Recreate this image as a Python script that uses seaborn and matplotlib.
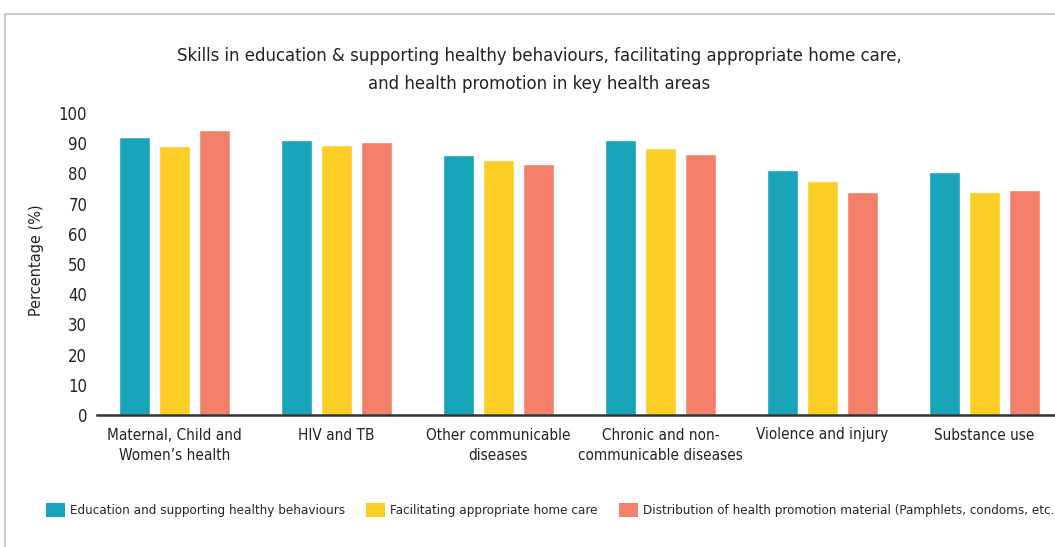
import matplotlib
matplotlib.use("Agg")
import matplotlib.pyplot as plt
from matplotlib.patches import Patch
from matplotlib.lines import Line2D
import seaborn as sns
import pandas as pd

categories = [
    "Maternal, Child and\nWomen\u2019s health",
    "HIV and TB",
    "Other communicable\ndiseases",
    "Chronic and non-\ncommunicable diseases",
    "Violence and injury",
    "Substance use",
]
series_names = [
    "Education and supporting healthy behaviours",
    "Facilitating appropriate home care",
    "Distribution of health promotion material (Pamphlets, condoms, etc.)",
]
education = [92.0, 91.0, 86.0, 91.0, 81.0, 80.5]
home_care = [89.0, 89.5, 84.5, 88.5, 77.5, 74.0]
distribution = [94.5, 90.5, 83.0, 86.5, 74.0, 74.5]
colors = ["#18A4B9", "#FDCE25", "#F4806B"]
y_ticks = list(range(0, 101, 10))

sns.set_theme(style="white")
plt.rcParams["font.family"] = ["DejaVu Sans"]
plt.rcParams["font.stretch"] = "condensed"

rows = []
for name, vals in zip(series_names, [education, home_care, distribution]):
    for cat, v in zip(categories, vals):
        rows.append({"area": cat, "series": name, "value": v})
df = pd.DataFrame(rows)

fig = plt.figure(figsize=(10.55, 5.47), dpi=100)
W, H = 1055, 547
ax = fig.add_axes([97 / W, 1 - 415 / H, (1065.5 - 97) / W, 302 / H])

sns.barplot(data=df, x="area", y="value", hue="series", order=categories,
            hue_order=series_names, palette=colors, saturation=1,
            width=0.74, gap=0.225, legend=False, ax=ax)

ax.set_xlim(-0.478, 5.5)
ax.set_ylim(0, 100)
ax.set_yticks(y_ticks)
ax.set_xlabel("")
ax.set_ylabel("")
for s in ["top", "right", "left"]:
    ax.spines[s].set_visible(False)
ax.spines["bottom"].set_color("#333333")
ax.spines["bottom"].set_linewidth(1.8)
ax.tick_params(axis="both", length=0, colors="#222222")
ax.tick_params(axis="y", pad=7, labelsize=12)
ax.tick_params(axis="x", pad=9, labelsize=11)
for lab in ax.get_xticklabels():
    lab.set_linespacing(1.5)

fig.text(539 / W, 1 - 70 / H,
         "Skills in education & supporting healthy behaviours, facilitating appropriate home care,\n"
         "and health promotion in key health areas",
         ha="center", va="center", fontsize=13.2, color="#222222", linespacing=1.75)
fig.text(36 / W, 1 - 260 / H, "Percentage (%)", rotation=90, ha="center", va="center",
         fontsize=11.7, color="#222222")

# panel frame
fig.add_artist(Line2D([5 / W, 1.0], [1 - 14 / H, 1 - 14 / H], transform=fig.transFigure,
                      color="#CCCCCC", lw=1.5))
fig.add_artist(Line2D([5 / W, 5 / W], [0, 1 - 14 / H], transform=fig.transFigure,
                      color="#CCCCCC", lw=1.5))

handles = [Patch(facecolor=c, edgecolor="none") for c in colors]
fig.legend(handles, series_names, loc="center left",
           bbox_to_anchor=(46 / W, 1 - 510 / H), ncol=3, frameon=False,
           handlelength=1.4, handleheight=1.2, handletextpad=0.4,
           columnspacing=1.6, fontsize=9.6, borderaxespad=0, borderpad=0)

fig.savefig("out.png", dpi=100)
